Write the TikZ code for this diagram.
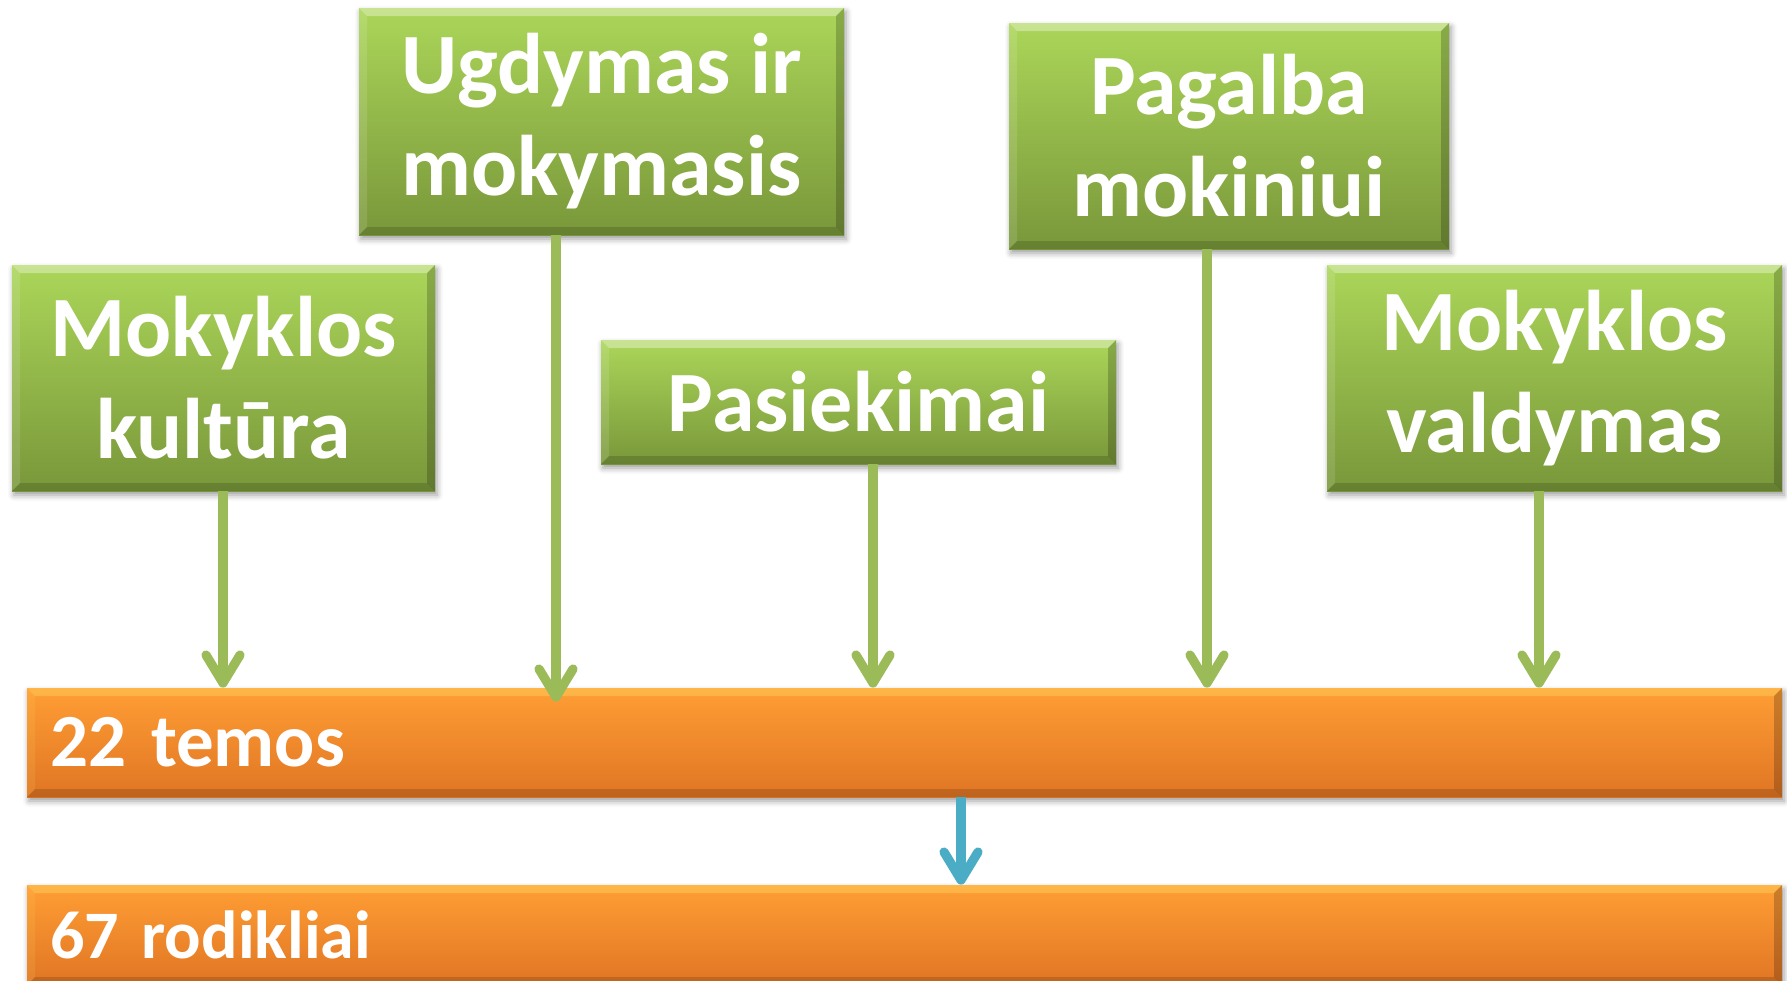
\documentclass[tikz,border=0pt]{standalone}
\usepackage{fontspec}
\setmainfont{Carlito}
\usetikzlibrary{arrows.meta,shadows.blur}

\definecolor{grtop}{RGB}{171,214,89}
\definecolor{grbot}{RGB}{121,151,58}
\definecolor{ortop}{RGB}{255,158,52}
\definecolor{orbot}{RGB}{224,117,36}
\definecolor{orhigh}{RGB}{255,226,110}
\definecolor{grline}{RGB}{155,187,89}
\definecolor{blline}{RGB}{75,172,198}

\tikzset{
  bevel/.style={path picture={
    \coordinate (pnw) at (path picture bounding box.north west);
    \coordinate (pne) at (path picture bounding box.north east);
    \coordinate (pse) at (path picture bounding box.south east);
    \coordinate (psw) at (path picture bounding box.south west);
    \fill[#1,opacity=.35] (pnw) -- (pne) -- ([shift={(-4pt,-4pt)}]pne) -- ([shift={(4pt,-4pt)}]pnw) -- cycle;
    \fill[#1,opacity=.12] (pnw) -- ([shift={(4pt,-4pt)}]pnw) -- ([shift={(4pt,4pt)}]psw) -- (psw) -- cycle;
    \fill[black,opacity=.15] (psw) -- (pse) -- ([shift={(-4pt,4pt)}]pse) -- ([shift={(4pt,4pt)}]psw) -- cycle;
    \fill[black,opacity=.2] (pne) -- (pse) -- ([shift={(-4pt,4pt)}]pse) -- ([shift={(-4pt,-4pt)}]pne) -- cycle;
  }},
}

\begin{document}
\begin{tikzpicture}[x=0.5pt, y=-0.5pt,
    greenbox/.style={blur shadow={shadow xshift=1pt, shadow yshift=-2pt, shadow blur radius=3pt},
      top color=grtop, bottom color=grbot, bevel=white, text=white, align=center, inner sep=0pt,
      font=\bfseries\fontsize{43}{51}\selectfont},
    orangebar/.style={blur shadow={shadow xshift=1pt, shadow yshift=-2pt, shadow blur radius=3pt},
      top color=ortop, bottom color=orbot, bevel=orhigh, text=white, align=left,
      minimum width=877.5pt, text width=854.5pt, inner xsep=11.5pt, inner ysep=0pt},
    grarrow/.style={draw=grline, line width=4.6pt, -{Straight Barb[length=14pt, width=17pt, round]}},
    blarrow/.style={grarrow, draw=blline}]
    \useasboundingbox (0,0) rectangle (1787,980);

    % top row
    \node[greenbox, minimum width=211.5pt, minimum height=113pt] (kult) at (223.5,378) {Mokyklos\\kultūra};
    \node[greenbox, minimum width=242.5pt, minimum height=113.5pt] (ugd) at (601.5,121.5) {Ugdymas ir\\mokymasis};
    \node[greenbox, minimum width=257.5pt, minimum height=62pt] (pas) at (858.5,402) {Pasiekimai};
    \node[greenbox, minimum width=220pt, minimum height=113pt] (pag) at (1229,136) {Pagalba\\mokiniui};
    \node[greenbox, minimum width=227.5pt, minimum height=113pt] (val) at (1554.5,378) {Mokyklos\\valdymas};

    % bars
    \node[orangebar, minimum height=54.5pt, font=\bfseries\fontsize{37.5}{45}\selectfont] (temos) at (904.5,742.5) {22 temos};
    \node[orangebar, minimum height=50pt, font=\bfseries\fontsize{34}{41}\selectfont] (rod) at (904.5,935) {67 rodikliai};

    \foreach \src/\ax/\sh in {kult/223/0, ugd/556/-7, pas/873/0, pag/1207/0, val/1539/0}
        \draw[grarrow, shorten >=\sh pt] (\src.south -| \ax,0) -- (temos.north -| \ax,0);
    \draw[blarrow] (temos.south -| 961,0) -- (rod.north -| 961,0);
\end{tikzpicture}
\end{document}
